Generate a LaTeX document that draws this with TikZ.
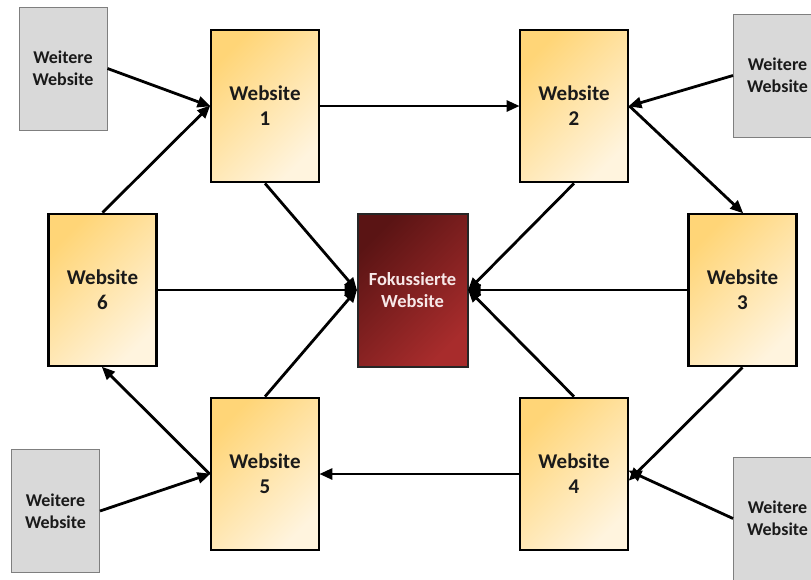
\documentclass[tikz,border=0pt]{standalone}
\usepackage{fontspec}
\setmainfont{Carlito}
\usetikzlibrary{arrows.meta}
\definecolor{ylA}{HTML}{FFD577}
\definecolor{ylB}{HTML}{FFF4DE}
\definecolor{rdA}{HTML}{5A1414}
\definecolor{rdB}{HTML}{A82C2C}
\definecolor{grF}{HTML}{D9D9D9}
\definecolor{grD}{HTML}{7F7F7F}
\definecolor{txD}{HTML}{1A1A1A}
\definecolor{txL}{HTML}{F7E8E8}
\tikzset{
  webbox/.style={draw=black, line width=2.8pt, minimum width=108pt, minimum height=152pt,
    top color=ylA, bottom color=ylB, shading angle=45, align=center, text=txD,
    font=\fontsize{21}{25}\selectfont\bfseries, inner sep=0pt},
  graybox/.style={draw=grD, line width=1pt, fill=grF, minimum width=88pt, minimum height=123pt,
    align=center, text=txD, font=\fontsize{18}{22}\selectfont\bfseries, inner sep=0pt},
  focbox/.style={draw=black!85, line width=2pt, minimum width=110pt, minimum height=153pt,
    top color=rdA, bottom color=rdB, shading angle=45, align=center, text=txL,
    font=\fontsize{18.5}{21.5}\selectfont\bfseries, inner sep=0pt},
  conn/.style={line width=2.8pt, -{Triangle[length=13pt,width=11pt]}, shorten >=-1pt},
}
\begin{document}
\begin{tikzpicture}[x=1pt,y=-1pt]
\useasboundingbox (0,0) rectangle (811,579);
\node[graybox] (gtl) at (63,68.5) {Weitere\\Website};
\node[graybox] (gtr) at (777.5,75.5) {Weitere\\Website};
\node[graybox] (gbl) at (55.5,511) {Weitere\\Website};
\node[graybox] (gbr) at (777.5,518.5) {Weitere\\Website};
\node[webbox] (w1) at (265,106) {Website\\1};
\node[webbox] (w2) at (574,106) {Website\\2};
\node[webbox] (w6) at (102.5,290) {Website\\6};
\node[webbox] (w3) at (742.5,290) {Website\\3};
\node[webbox] (w5) at (265,474) {Website\\5};
\node[webbox] (w4) at (574,474) {Website\\4};
\node[focbox] (f) at (412.5,290) {Fokussierte\\Website};
% outer ring
\draw[conn] (gtl.east) -- (w1.west);
\draw[conn] (w6.north) -- (w1.west);
\draw[conn] (w1.east) -- (w2.west);
\draw[conn] (gtr.west) -- (w2.east);
\draw[conn] (w2.east) -- (w3.north);
\draw[conn] (w3.south) -- ([yshift=-6pt]w4.east);
\draw[conn] (gbr.west) -- ([yshift=3pt]w4.east);
\draw[conn] (w4.west) -- (w5.east);
\draw[conn] (gbl.east) -- (w5.west);
\draw[conn] (w5.west) -- (w6.south);
% into focus
\draw[conn] (w1.south) -- (f.west);
\draw[conn] (w6.east) -- (f.west);
\draw[conn] (w5.north) -- (f.west);
\draw[conn] (w2.south) -- (f.east);
\draw[conn] (w3.west) -- (f.east);
\draw[conn] (w4.north) -- (f.east);
\end{tikzpicture}
\end{document}
